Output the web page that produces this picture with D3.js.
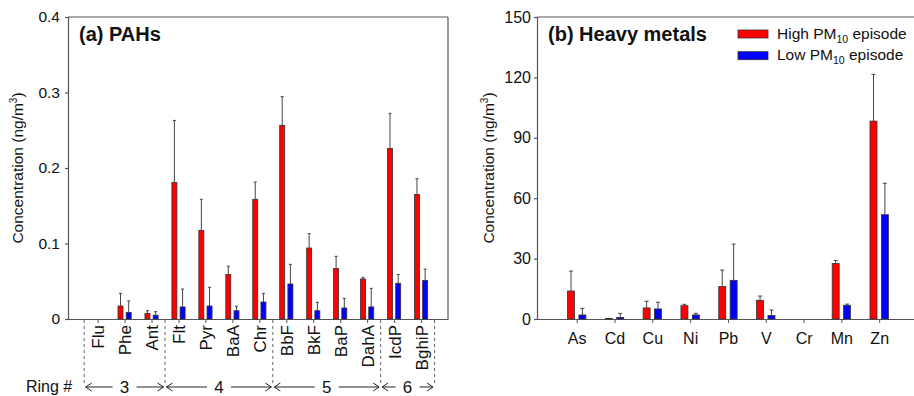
<!DOCTYPE html>
<html><head><meta charset="utf-8">
<script src="https://cdn.jsdelivr.net/npm/d3@7"></script>
<style>body{margin:0;background:#fff}svg{display:block}text{font-family:"Liberation Sans",Arial,sans-serif;fill:#111}</style>
</head><body><svg id="c" width="914" height="396"></svg>
<script>
// ---- Panel (a) PAHs ----
const pahCats = ["Flu","Phe","Ant","Flt","Pyr","BaA","Chr","BbF","BkF","BaP","DahA","IcdP","BghiP"];
const pahHigh = [0, 0.0172, 0.0075, 0.181, 0.1174, 0.059, 0.1585, 0.2565, 0.094, 0.067, 0.053, 0.226, 0.165];
const pahHighErr = [0, 0.0168, 0.0035, 0.082, 0.0411, 0.011, 0.0229, 0.038, 0.019, 0.016, 0.0022, 0.0464, 0.0208];
const pahLow = [0, 0.0088, 0.005, 0.016, 0.0172, 0.011, 0.0225, 0.0464, 0.011, 0.0146, 0.016, 0.0473, 0.0512];
const pahLowErr = [0, 0.0152, 0.0047, 0.0237, 0.0248, 0.006, 0.0115, 0.026, 0.011, 0.0128, 0.0246, 0.0117, 0.0148];
const pahTicks = [0, 0.1, 0.2, 0.3, 0.4];
const rings = ["3","4","5","6"];
const ringBounds = [-0.5, 2.5, 6.5, 10.5, 12.5];

// ---- Panel (b) Heavy metals ----
const metalCats = ["As","Cd","Cu","Ni","Pb","V","Cr","Mn","Zn"];
const metalHigh = [13.9, 0.3, 5.5, 6.6, 16.1, 9.3, 0, 27.6, 98.3];
const metalHighErr = [9.9, 0, 3.3, 0.7, 8.2, 2.1, 0, 1.5, 23.2];
const metalLow = [2.0, 0.8, 5.0, 2.0, 19.2, 1.7, 0, 6.8, 51.8];
const metalLowErr = [3.3, 2.0, 3.3, 0.8, 18.0, 2.8, 0, 0.6, 15.6];
const metalTicks = [0, 30, 60, 90, 120, 150];

const seriesNames = ["High PM", "Low PM"];
const colors = ["#ff0000", "#0000ff"];

const svg = d3.select("#c");
const axisColor = "#555";

function panel(opt) {
  const g = svg.append("g");
  const x = d3.scaleLinear().domain(opt.xDomain).range([opt.x0, opt.x1]);
  const y = d3.scaleLinear().domain([0, opt.yMax]).range([opt.yB, opt.yT]);
  g.append("line").attr("x1", opt.x0).attr("x2", opt.x1).attr("y1", opt.yT).attr("y2", opt.yT)
    .attr("stroke", axisColor).attr("stroke-width", 1.2);
  g.append("line").attr("x1", opt.x1).attr("x2", opt.x1).attr("y1", opt.yT).attr("y2", opt.yB)
    .attr("stroke", axisColor).attr("stroke-width", 1.2);
  const ya = g.append("g").attr("transform", `translate(${opt.x0},0)`)
    .call(d3.axisLeft(y).tickValues(opt.yTicks).tickSize(3).tickPadding(opt.yPad).tickFormat(opt.yFmt));
  ya.select(".domain").attr("stroke", axisColor).attr("stroke-width", 1.2);
  ya.selectAll(".tick line").attr("stroke", axisColor).attr("stroke-width", 1.2);
  ya.selectAll("text").attr("font-size", opt.yFont).attr("fill", "#111")
    .style("font-family", '"Liberation Sans",Arial,sans-serif');
  const xa = g.append("g").attr("transform", `translate(0,${opt.yB})`)
    .call(d3.axisBottom(x).tickValues(d3.range(opt.cats.length)).tickSize(4).tickSizeOuter(0)
      .tickFormat(i => opt.cats[i]));
  xa.select(".domain").attr("stroke", axisColor).attr("stroke-width", 1.2);
  xa.selectAll(".tick line").attr("stroke", axisColor).attr("stroke-width", 1);
  xa.selectAll("text").attr("fill", "#111").style("font-family", '"Liberation Sans",Arial,sans-serif');
  opt.labelStyle(xa.selectAll("text"));
  const data = opt.cats.map((c, i) => ({i, v: [opt.high[i], opt.low[i]], e: [opt.highErr[i], opt.lowErr[i]]}));
  const grp = g.append("g").selectAll("g").data(data).join("g");
  [0, 1].forEach(s => {
    const off = s === 0 ? -opt.off : opt.off;
    grp.filter(d => d.v[s] > 0).append("line")
      .attr("x1", d => x(d.i) + off).attr("x2", d => x(d.i) + off)
      .attr("y1", d => y(d.v[s])).attr("y2", d => y(d.v[s] + d.e[s]))
      .attr("stroke", "#444").attr("stroke-width", 1);
    grp.filter(d => d.e[s] > 0).append("line")
      .attr("x1", d => x(d.i) + off - opt.cap).attr("x2", d => x(d.i) + off + opt.cap)
      .attr("y1", d => y(d.v[s] + d.e[s])).attr("y2", d => y(d.v[s] + d.e[s]))
      .attr("stroke", "#444").attr("stroke-width", 1);
    grp.filter(d => d.v[s] > 0).append("rect")
      .attr("x", d => x(d.i) + off - opt.bw / 2).attr("width", opt.bw)
      .attr("y", d => y(d.v[s])).attr("height", d => y(0) - y(d.v[s]))
      .attr("fill", colors[s]).attr("stroke", "#333").attr("stroke-width", 0.8);
  });
  g.append("text").attr("x", opt.titleX).attr("y", 41).attr("font-size", 20).attr("font-weight", "bold")
    .text(opt.title);
  const yt = g.append("text").attr("transform", `translate(${opt.yTitleX},${(opt.yT + opt.yB) / 2}) rotate(-90)`)
    .attr("text-anchor", "middle").attr("font-size", 15.5);
  yt.append("tspan").text("Concentration (ng/m");
  yt.append("tspan").attr("font-size", 10).attr("dy", -6).text("3");
  yt.append("tspan").attr("dy", 6).text(")");
  return {g, x, y};
}

const A = panel({
  cats: pahCats, high: pahHigh, highErr: pahHighErr, low: pahLow, lowErr: pahLowErr,
  xDomain: [-1.1, 13], x0: 68, x1: 448, yT: 17, yB: 319, yMax: 0.4, yTicks: pahTicks,
  yFmt: d => d === 0 ? "0" : d3.format(".1f")(d), yPad: 5, yFont: 15.5,
  bw: 5, off: 4.1, cap: 1.5, title: "(a) PAHs", titleX: 79, yTitleX: 23,
  labelStyle: t => t.attr("transform", "rotate(-90)").attr("x", -6).attr("y", 0).attr("dy", "0.36em")
    .attr("text-anchor", "end").attr("font-size", 17)
});

const xa = A.x;
ringBounds.forEach(b => {
  A.g.append("line").attr("x1", xa(b)).attr("x2", xa(b)).attr("y1", 320).attr("y2", 386)
    .attr("stroke", "#666").attr("stroke-width", 1).attr("stroke-dasharray", "3,3");
});
A.g.append("text").attr("x", 26).attr("y", 392).attr("font-size", 16).text("Ring #");
const ay = 387;
rings.forEach((r, k) => {
  const l = xa(ringBounds[k]), rr = xa(ringBounds[k + 1]);
  const m = (l + rr) / 2;
  A.g.append("text").attr("x", m).attr("y", 393).attr("text-anchor", "middle").attr("font-size", 17).text(r);
  const gap = 12;
  const pth = (x1, x2, dir) => {
    const hx = dir < 0 ? x1 : x2;
    return `M${x1},${ay}L${x2},${ay}M${hx - 6 * dir},${ay - 4}L${hx},${ay}L${hx - 6 * dir},${ay + 4}`;
  };
  A.g.append("path").attr("d", pth(l + 1.5, m - gap, -1)).attr("fill", "none").attr("stroke", "#222").attr("stroke-width", 1);
  A.g.append("path").attr("d", pth(m + gap, rr - 1.5, 1)).attr("fill", "none").attr("stroke", "#222").attr("stroke-width", 1);
});

const B = panel({
  cats: metalCats, high: metalHigh, highErr: metalHighErr, low: metalLow, lowErr: metalLowErr,
  xDomain: [-1.05, 9], x0: 537, x1: 917, yT: 17, yB: 319, yMax: 150, yTicks: metalTicks,
  yFmt: d3.format("d"), yPad: 3, yFont: 16,
  bw: 7, off: 5.7, cap: 2, title: "(b) Heavy metals", titleX: 548, yTitleX: 494,
  labelStyle: t => t.attr("y", 14).attr("dy", "0.71em").attr("font-size", 16)
});

const leg = svg.append("g");
seriesNames.forEach((n, s) => {
  const yy = 30 + s * 21.7;
  leg.append("rect").attr("x", 738).attr("y", yy).attr("width", 30).attr("height", 8)
    .attr("fill", colors[s]).attr("stroke", "#333").attr("stroke-width", 0.8);
  const t = leg.append("text").attr("x", 777).attr("y", yy + 8.5).attr("font-size", 15.5);
  t.append("tspan").text(n);
  t.append("tspan").attr("font-size", 10.5).attr("dy", 4).text("10");
  t.append("tspan").attr("dy", -4).text(" episode");
});
</script></body></html>
